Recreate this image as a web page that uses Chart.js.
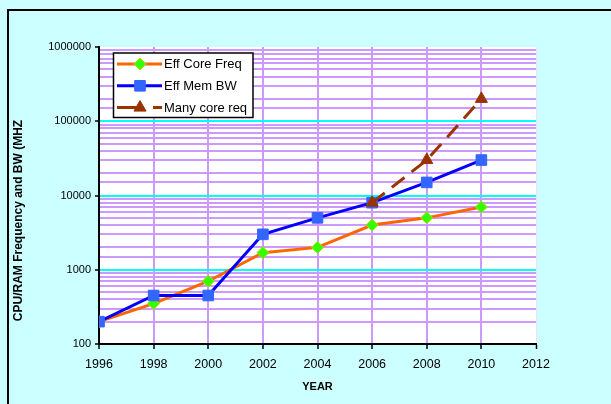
<!DOCTYPE html>
<html>
<head>
<meta charset="utf-8">
<script src="https://cdn.jsdelivr.net/npm/chart.js@4/dist/chart.umd.min.js"></script>
<style>
  html, body { margin: 0; padding: 0; background: #ccffff; }
  #wrap { width: 611px; height: 404px; position: relative; }
</style>
</head>
<body>
<div id="wrap"><canvas id="cpuChart"></canvas></div>
<script>
// values
const years = [1996, 1998, 2000, 2002, 2004, 2006, 2008, 2010];
const coreFreq = [200, 350, 700, 1700, 2000, 4000, 5000, 7000];
const memBW = [200, 450, 450, 3000, 5000, 8000, 15000, 30000];
const manyCore = [null, null, null, null, null, 8000, 30000, 200000];
const seriesNames = ["Eff Core Freq", "Eff Mem BW", "Many core req"];
const yTitle = "CPU/RAM Frequency and BW (MHZ";
const xTitle = "YEAR";

const FONT = "'Liberation Sans', Arial, sans-serif";
Chart.defaults.font.family = FONT;
Chart.defaults.color = "#000";

function toPoints(vals) {
    return years.map((y, i) => ({ x: y, y: vals[i] })).filter(p => p.y !== null);
}

function isDecade(v) {
    const l = Math.log10(v);
    return Math.abs(l - Math.round(l)) < 1e-9;
}

// cyan page, white plot, black frame
const backdrop = {
    id: "backdrop",
    beforeDraw(chart) {
        const { ctx, chartArea: a } = chart;
        ctx.save();
        ctx.fillStyle = "#ccffff";
        ctx.fillRect(0, 0, chart.width, chart.height);
        ctx.fillStyle = "#fff";
        ctx.fillRect(a.left, a.top, a.right - a.left, a.bottom - a.top);
        ctx.strokeStyle = "#000";
        ctx.lineWidth = 2;
        ctx.strokeRect(8, 10, chart.width + 20, chart.height + 20);
        ctx.restore();
    },
    afterDraw(chart) {
        const ctx = chart.ctx;
        // y title, sits a bit below the middle like in excel
        ctx.save();
        ctx.translate(18.5, 220.5);
        ctx.rotate(-Math.PI / 2);
        ctx.font = "bold 12px " + FONT;
        ctx.textAlign = "center";
        ctx.textBaseline = "middle";
        ctx.fillStyle = "#000";
        ctx.fillText(yTitle, 0, 0);
        ctx.restore();
    }
};

// excel style legend: line with the marker in the middle
const boxLegend = {
    id: "boxLegend",
    afterDraw(chart) {
        const ctx = chart.ctx;
        const bx = 113.5, by = 53, bw = 139.5, bh = 64.5;
        ctx.save();
        ctx.fillStyle = "#fff";
        ctx.fillRect(bx, by, bw, bh);
        ctx.strokeStyle = "#000";
        ctx.lineWidth = 1.5;
        ctx.strokeRect(bx, by, bw, bh);
        chart.data.datasets.forEach((ds, i) => {
            const cy = 64 + i * 21.8;
            ctx.strokeStyle = ds.borderColor;
            ctx.lineWidth = ds.borderWidth;
            ctx.beginPath();
            if (ds.borderDash) {
                ctx.moveTo(117, cy); ctx.lineTo(140, cy);
                ctx.moveTo(153, cy); ctx.lineTo(162, cy);
            } else {
                ctx.moveTo(117, cy); ctx.lineTo(162, cy);
            }
            ctx.stroke();
            ctx.fillStyle = ds.pointBackgroundColor;
            ctx.strokeStyle = ds.pointBorderColor;
            ctx.lineWidth = ds.pointBorderWidth;
            Chart.helpers.drawPoint(ctx, {
                pointStyle: ds.pointStyle,
                radius: ds.pointRadius,
                borderWidth: ds.pointBorderWidth
            }, 140, cy);
            ctx.font = "13px " + FONT;
            ctx.fillStyle = "#000";
            ctx.textAlign = "left";
            ctx.textBaseline = "middle";
            ctx.fillText(ds.label, 164, cy + 0.5);
        });
        ctx.restore();
    }
};

new Chart(document.getElementById("cpuChart"), {
    type: "line",
    data: {
        datasets: [
            {
                label: seriesNames[0],
                data: toPoints(coreFreq),
                borderColor: "#ff6600",
                borderWidth: 3,
                pointStyle: "rectRot",
                pointRadius: 6,
                pointBackgroundColor: "#33ff00",
                pointBorderColor: "#aadd00",
                pointBorderWidth: 1,
                order: 3,
            },
            {
                label: seriesNames[1],
                data: toPoints(memBW),
                borderColor: "#0000ff",
                borderWidth: 3,
                pointStyle: "rect",
                pointRadius: 7.5,
                pointBackgroundColor: "#3366ff",
                pointBorderColor: "#3366ff",
                pointBorderWidth: 1,
                order: 2,
            },
            {
                label: seriesNames[2],
                data: toPoints(manyCore),
                borderColor: "#993300",
                borderWidth: 3,
                borderDash: [16, 9],
                pointStyle: "triangle",
                pointRadius: 7,
                pointBackgroundColor: "#993300",
                pointBorderColor: "#993300",
                pointBorderWidth: 1,
                order: 1,
            },
        ],
    },
    options: {
        responsive: true,
        maintainAspectRatio: false,
        animation: false,
        layout: { padding: { left: 0, top: 47, right: 75, bottom: 0 } },
        plugins: {
            legend: { display: false },
            tooltip: { enabled: false },
        },
        scales: {
            x: {
                type: "linear",
                min: 1996,
                max: 2012,
                afterFit: (s) => { s.height = 60; },
                ticks: {
                    stepSize: 2,
                    padding: 8,
                    font: { size: 12.5 },
                    callback: (v) => String(v),
                },
                grid: {
                    color: (c) => c.tick && c.tick.value === 2012 ? "#f4dcf8" : "#cc99ff",
                    lineWidth: (c) => c.tick && c.tick.value === 2012 ? 1 : 2,
                    tickColor: "#000",
                    tickLength: 5,
                    tickWidth: 1.5,
                },
                border: { color: "#000", width: 2 },
                title: {
                    display: true,
                    text: xTitle,
                    font: { size: 11, weight: "bold" },
                    padding: { top: 0, bottom: 10 },
                },
            },
            y: {
                type: "logarithmic",
                min: 100,
                max: 1000000,
                afterFit: (s) => { s.width = 99; },
                ticks: {
                    autoSkip: false,
                    padding: 4,
                    font: { size: 11 },
                    callback: (v) => isDecade(v) ? String(v) : "",
                },
                grid: {
                    color: (c) => c.tick.value >= 1000000 ? "rgba(0,0,0,0)"
                        : isDecade(c.tick.value) ? "#00ffff" : "#cc99ff",
                    lineWidth: 2,
                    tickColor: (c) => isDecade(c.tick.value) ? "#000" : "rgba(0,0,0,0)",
                    tickLength: 4,
                    tickWidth: 1.5,
                },
                border: { color: "#000", width: 2 },
            },
        },
    },
    plugins: [backdrop, boxLegend],
});
</script>
</body>
</html>
